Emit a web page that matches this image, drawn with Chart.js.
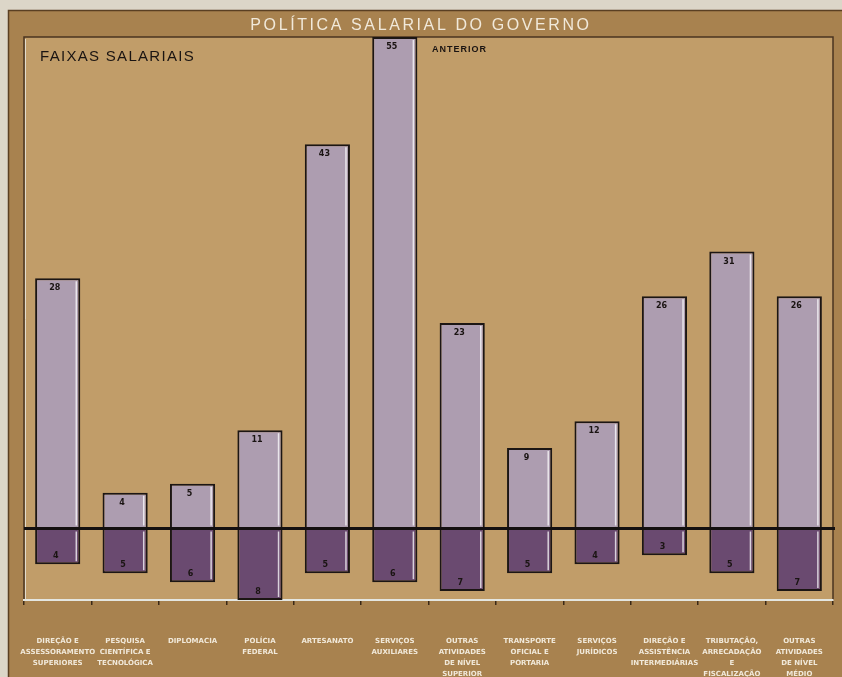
<!DOCTYPE html>
<html lang="pt">
<head>
<meta charset="utf-8">
<title>Política Salarial do Governo</title>
<script src="https://cdn.jsdelivr.net/npm/chart.js@4/dist/chart.umd.min.js"></script>
<style>
  html, body { margin: 0; padding: 0; background: #dcd6c8; }
  canvas { display: block; }
</style>
</head>
<body>
<canvas id="grafico" width="842" height="677"></canvas>
<script>
// Categorias de carreira (rótulos do eixo horizontal, em linhas)
const categorias = [
  ['DIREÇÃO E', 'ASSESSORAMENTO', 'SUPERIORES'],
  ['PESQUISA', 'CIENTÍFICA E', 'TECNOLÓGICA'],
  ['DIPLOMACIA'],
  ['POLÍCIA', 'FEDERAL'],
  ['ARTESANATO'],
  ['SERVIÇOS', 'AUXILIARES'],
  ['OUTRAS', 'ATIVIDADES', 'DE NÍVEL', 'SUPERIOR'],
  ['TRANSPORTE', 'OFICIAL E', 'PORTARIA'],
  ['SERVIÇOS', 'JURÍDICOS'],
  ['DIREÇÃO E', 'ASSISTÊNCIA', 'INTERMEDIÁRIAS'],
  ['TRIBUTAÇÃO,', 'ARRECADAÇÃO', 'E', 'FISCALIZAÇÃO'],
  ['OUTRAS', 'ATIVIDADES', 'DE NÍVEL', 'MÉDIO']
];

// Faixas salariais: anterior (acima da linha) e atual (abaixo da linha)
const faixasAnterior = [28, 4, 5, 11, 43, 55, 23, 9, 12, 26, 31, 26];
const faixasAtual = [4, 5, 6, 8, 5, 6, 7, 5, 4, 3, 5, 7];

const titulo = 'POLÍTICA SALARIAL DO GOVERNO';
const subtitulo = 'FAIXAS SALARIAIS';
const legenda = 'ANTERIOR';

const CORES = {
  fundo: '#dcd6c8',
  cartao: '#a8824f',
  painel: '#c19d69',
  contorno: '#4a3420',
  barraClara: '#ad9db0',
  barraEscura: '#6a4a70',
  borda: '#1c1614',
  texto: '#1a1412',
  textoClaro: '#f1e9da'
};

// Fundo, cartão, painel e textos fixos
const fundoPlugin = {
  id: 'fundo',
  beforeDraw(chart) {
    const { ctx, chartArea: a, width, height } = chart;
    ctx.save();
    ctx.fillStyle = CORES.fundo;
    ctx.fillRect(0, 0, width, height);
    // cartão
    ctx.fillStyle = CORES.cartao;
    ctx.fillRect(8, 10, width - 8, height - 10);
    ctx.strokeStyle = '#5a3f22';
    ctx.lineWidth = 1.5;
    ctx.beginPath();
    ctx.moveTo(8.5, height);
    ctx.lineTo(8.5, 10.5);
    ctx.lineTo(width, 10.5);
    ctx.stroke();
    // painel interno
    ctx.fillStyle = CORES.painel;
    ctx.fillRect(a.left, a.top, a.right - a.left, a.bottom - a.top);
    ctx.strokeStyle = CORES.contorno;
    ctx.lineWidth = 1.5;
    ctx.beginPath();
    ctx.moveTo(a.left, a.bottom);
    ctx.lineTo(a.left, a.top);
    ctx.lineTo(a.right, a.top);
    ctx.lineTo(a.right, a.bottom);
    ctx.stroke();
    ctx.strokeStyle = 'rgba(235,235,228,0.8)';
    ctx.lineWidth = 1;
    ctx.beginPath();
    ctx.moveTo(a.left + 1.5, a.bottom);
    ctx.lineTo(a.left + 1.5, a.top + 2);
    ctx.stroke();
    // título
    ctx.fillStyle = CORES.textoClaro;
    ctx.font = '16px "Liberation Sans", Arial, sans-serif';
    ctx.letterSpacing = '2.6px';
    ctx.textAlign = 'center';
    ctx.textBaseline = 'alphabetic';
    ctx.fillText(titulo, 421, 30);
    // subtítulo e legenda
    ctx.fillStyle = CORES.texto;
    ctx.textAlign = 'left';
    ctx.letterSpacing = '1.3px';
    ctx.font = '15px "Liberation Sans", Arial, sans-serif';
    ctx.fillText(subtitulo, 40, 61);
    ctx.letterSpacing = '1px';
    ctx.font = 'bold 9px "Liberation Sans", Arial, sans-serif';
    ctx.fillText(legenda, 432, 52);
    ctx.letterSpacing = '0px';
    ctx.restore();
  }
};

// Linha de base, reflexos e valores das barras
const barrasPlugin = {
  id: 'barras',
  afterDatasetsDraw(chart) {
    const { ctx, chartArea: a } = chart;
    const y0 = chart.scales.y.getPixelForValue(0);
    ctx.save();
    chart.data.datasets.forEach((ds, i) => {
      const meta = chart.getDatasetMeta(i);
      meta.data.forEach((el, j) => {
        const topo = Math.min(el.y, el.base);
        const fundo = Math.max(el.y, el.base);
        const dir = el.x + el.width / 2;
        ctx.strokeStyle = 'rgba(255,255,255,0.75)';
        ctx.lineWidth = 1.5;
        ctx.beginPath();
        ctx.moveTo(dir - 4, topo + 3);
        ctx.lineTo(dir - 4, fundo - 3);
        ctx.stroke();
        ctx.fillStyle = CORES.texto;
        ctx.font = 'bold 8px "DejaVu Sans", sans-serif';
        ctx.textAlign = 'center';
        ctx.textBaseline = 'middle';
        const v = Math.abs(ds.data[j]);
        if (ds.data[j] >= 0) {
          ctx.fillText(String(v), el.x - 3, el.y + 10);
        } else {
          ctx.fillText(String(v), el.x - 2, el.y - 8);
        }
      });
    });
    ctx.strokeStyle = '#141010';
    ctx.lineWidth = 3;
    ctx.beginPath();
    ctx.moveTo(a.left, y0);
    ctx.lineTo(a.right + 2, y0);
    ctx.stroke();
    ctx.restore();
  }
};

new Chart(document.getElementById('grafico'), {
  type: 'bar',
  data: {
    labels: categorias,
    datasets: [
      {
        label: 'Anterior',
        data: faixasAnterior,
        backgroundColor: CORES.barraClara,
        borderColor: CORES.borda,
        borderWidth: 2
      },
      {
        label: 'Atual',
        data: faixasAtual.map(v => -v),
        backgroundColor: CORES.barraEscura,
        borderColor: CORES.borda,
        borderWidth: 2
      }
    ]
  },
  options: {
    responsive: false,
    animation: false,
    devicePixelRatio: 1,
    layout: { padding: { left: 24, right: 9, top: 37, bottom: 0 } },
    datasets: {
      bar: { categoryPercentage: 1, barPercentage: 0.67 }
    },
    plugins: {
      legend: { display: false },
      title: { display: false },
      tooltip: { enabled: false }
    },
    scales: {
      x: {
        stacked: true,
        offset: true,
        border: { display: true, color: '#e4e6e0', width: 2 },
        grid: {
          display: true,
          offset: true,
          drawOnChartArea: false,
          drawTicks: true,
          tickLength: 5,
          color: '#3a2816',
          lineWidth: 1.5
        },
        ticks: {
          autoSkip: false,
          maxRotation: 0,
          minRotation: 0,
          padding: 31,
          color: CORES.textoClaro,
          font: { family: '"DejaVu Sans", sans-serif', size: 7, weight: 'bold', lineHeight: 1.55 }
        },
        afterFit(scale) {
          scale.height = 77;
          scale.paddingLeft = 0;
          scale.paddingRight = 0;
        }
      },
      y: {
        display: false,
        stacked: true,
        min: -8,
        max: 55
      }
    }
  },
  plugins: [fundoPlugin, barrasPlugin]
});
</script>
</body>
</html>
